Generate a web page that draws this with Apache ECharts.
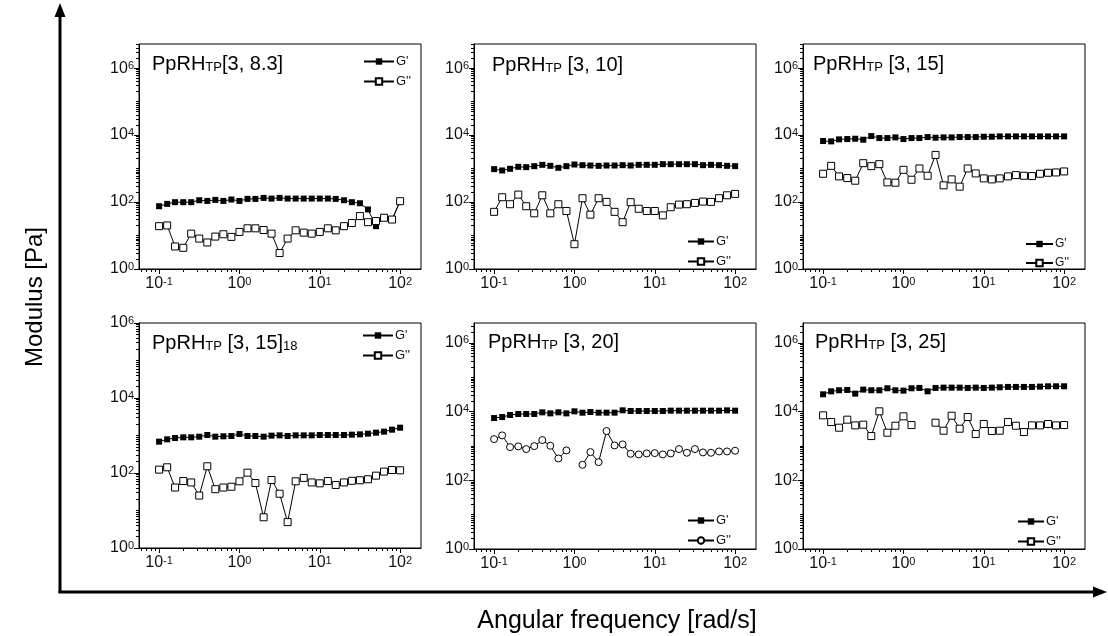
<!DOCTYPE html>
<html><head><meta charset="utf-8">
<script src="https://cdn.jsdelivr.net/npm/echarts@6/dist/echarts.min.js"></script>
<style>html,body{margin:0;padding:0;background:#fff}#c{width:1108px;height:636px}</style>
</head><body><div id="c"></div>
<script>
// ---------- DATA ----------
const freq = [0.1, 0.126, 0.158, 0.2, 0.251, 0.316, 0.398, 0.501, 0.631, 0.794,
  1, 1.26, 1.58, 2, 2.51, 3.16, 3.98, 5.01, 6.31, 7.94,
  10, 12.6, 15.8, 20, 25.1, 31.6, 39.8, 50.1, 63.1, 79.4, 100];
const xMajorTicks = [0.1, 1, 10, 100];
const yMajorTicks = [1, 100, 10000, 1000000];
const seriesNames = ["G'", "G''"];
const panelTitles = [
  ['PpRH', 'TP', '[3, 8.3]', ''],
  ['PpRH', 'TP', ' [3, 10]', ''],
  ['PpRH', 'TP', ' [3, 15]', ''],
  ['PpRH', 'TP', ' [3, 15]', '18'],
  ['PpRH', 'TP', ' [3, 20]', ''],
  ['PpRH', 'TP', ' [3, 25]', '']
];
// G' (storage modulus) and G'' (loss modulus) per panel
const gStorage83 = [75, 88, 99, 99, 99, 113, 108, 116, 108, 119, 108, 124, 124, 133, 127, 133, 127, 127, 127, 127, 127, 127, 124, 113, 99, 92, 60, 19, 34, 30, 106];
const gLoss83 = [19, 20, 4.7, 4.3, 11.4, 8.1, 6.2, 9.3, 10.9, 9.1, 12.8, 16.4, 16.4, 14.6, 11.4, 3.0, 8.1, 14.3, 12.2, 11.4, 12.8, 16.4, 14.3, 19, 23.6, 38, 25, 27, 34, 30, 106];
const gStorage10 = [961, 877, 984, 1127, 1102, 1180, 1292, 1206, 1052, 1180, 1322, 1262, 1233, 1206, 1233, 1233, 1262, 1233, 1292, 1292, 1292, 1352, 1352, 1352, 1352, 1352, 1262, 1292, 1262, 1206, 1180];
const gLoss10 = [51, 139, 86, 167, 75, 46, 159, 46, 86, 54, 5.5, 130, 42, 130, 101, 51, 25, 99, 63, 54, 54, 40, 70, 84, 86, 94, 103, 101, 130, 159, 175];
const gStorage15 = [6637, 6490, 7441, 7610, 7782, 7274, 9340, 8140, 8140, 8530, 7610, 8140, 8140, 8730, 8340, 8530, 8530, 8730, 8730, 8730, 8930, 8930, 9130, 9130, 9130, 9130, 9130, 9130, 9130, 9130, 9130];
const gLoss15 = [699, 1206, 583, 520, 433, 1446, 1180, 1352, 387, 378, 918, 464, 1005, 610, 2554, 315, 475, 288, 1005, 715, 508, 475, 508, 583, 638, 610, 596, 699, 748, 765, 820];
const gStorage15_18 = [685, 790, 858, 894, 894, 931, 1031, 931, 951, 970, 1097, 970, 970, 931, 991, 1010, 970, 1010, 1010, 1010, 1031, 1031, 1031, 1031, 1052, 1074, 1120, 1191, 1266, 1431, 1617];
const gLoss15_18 = [123, 142, 41, 61, 56, 25, 151, 37, 41, 43, 60, 102, 54, 6.6, 65, 28, 4.9, 60, 74, 56, 53, 61, 48, 56, 62, 64, 68, 85, 109, 120, 118];
const gStorage20 = [6500, 6950, 7960, 8510, 8510, 8510, 9530, 8890, 9530, 8890, 10190, 9310, 9730, 9310, 9310, 9310, 10890, 10420, 10420, 10420, 10420, 10420, 10650, 10650, 10650, 10650, 10650, 10650, 10650, 10890, 10650];
const gLoss20 = [1585, 2030, 927, 969, 811, 990, 1483, 1013, 433, 741, null, 283, 662, 338, 2716, 1037, 1109, 592, 566, 605, 619, 566, 605, 811, 634, 811, 648, 634, 692, 692, 724];
const gStorage25 = [31900, 39000, 41800, 42700, 33400, 43700, 41800, 41800, 47800, 41800, 40800, 47800, 48900, 39000, 48900, 49900, 49900, 49900, 48900, 49900, 48900, 49900, 51100, 52300, 52300, 52300, 52300, 53400, 54600, 54600, 54600];
const gLoss25 = [7780, 4970, 3400, 5820, 3970, 4160, 1940, 10190, 2430, 3880, 7280, 4060, null, null, 4750, 2780, 7600, 3180, 6950, 2220, 4350, 2720, 2780, 4970, 3880, 2540, 3970, 3970, 4350, 3970, 4060];

const storageSets = [gStorage83, gStorage10, gStorage15, gStorage15_18, gStorage20, gStorage25];
const lossSets = [gLoss83, gLoss10, gLoss15, gLoss15_18, gLoss20, gLoss25];
const lossSymbols = ['rect', 'rect', 'rect', 'rect', 'circle', 'rect'];

// ---------- LAYOUT ----------
const FONT = '"Liberation Sans", Arial, sans-serif';
const panels = [
  {left: 139, top: 44, width: 282, height: 225, yMax: 5.25e6, legend: [363, 55, 30], title: [152, 54]},
  {left: 474, top: 44, width: 282, height: 225, yMax: 5.25e6, legend: [687, 235, 26], title: [492, 55]},
  {left: 803, top: 44, width: 282, height: 225, yMax: 5.25e6, legend: [1025, 238, 27], title: [813, 54]},
  {left: 139, top: 323, width: 282, height: 225, yMax: 1e6, legend: [362, 329, 30], title: [152, 333]},
  {left: 474, top: 323, width: 282, height: 226, yMax: 3.8e6, legend: [687, 514, 26], title: [488, 332]},
  {left: 803, top: 323, width: 282, height: 226, yMax: 3.8e6, legend: [1017, 515, 26], title: [815, 332]}
];
const xMin = 0.0562, xMax = 182;

function minorTicks(lo, hi, majors) {
  const out = [];
  for (let e = Math.floor(Math.log10(lo)) - 1; e <= Math.ceil(Math.log10(hi)); e++) {
    for (let m = 1; m <= 9; m++) {
      const v = +(m * Math.pow(10, e)).toPrecision(6);
      if (v >= lo && v <= hi && majors.indexOf(v) < 0) out.push(v);
    }
  }
  return out;
}
const supRich = {
  b: {fontSize: 16, fontFamily: FONT, color: '#111', lineHeight: 16, verticalAlign: 'bottom'},
  s: {fontSize: 11, fontFamily: FONT, color: '#111', lineHeight: 8, verticalAlign: 'top'}
};
function powLabel(v) {
  const e = Math.round(Math.log10(v));
  return '{b|10}{s|' + (e < 0 ? '-' + (-e) : e) + '}';
}

const grid = [], xAxis = [], yAxis = [], series = [], legend = [], title = [];
panels.forEach((p, i) => {
  grid.push({left: p.left, top: p.top, width: p.width, height: p.height, show: true,
    borderColor: '#000', borderWidth: 1, backgroundColor: 'transparent', containLabel: false});
  const xMinor = minorTicks(xMin, xMax, xMajorTicks);
  const yMinor = minorTicks(1, p.yMax, yMajorTicks);
  xAxis.push({type: 'log', gridIndex: i, min: xMin, max: xMax, position: 'bottom',
    axisLine: {show: true, lineStyle: {color: '#000', width: 1}},
    axisTick: {show: true, inside: false, length: 5, customValues: xMajorTicks, lineStyle: {color: '#000', width: 1}},
    axisLabel: {show: true, customValues: xMajorTicks, margin: 7, formatter: powLabel, rich: supRich},
    splitLine: {show: false}, minorTick: {show: false}});
  xAxis.push({type: 'log', gridIndex: i, min: xMin, max: xMax, position: 'bottom', offset: 0,
    axisLine: {show: false},
    axisTick: {show: true, inside: false, length: 3, customValues: xMinor, lineStyle: {color: '#000', width: 1}},
    axisLabel: {show: false}, splitLine: {show: false}});
  yAxis.push({type: 'log', gridIndex: i, min: 1, max: p.yMax, position: 'left',
    axisLine: {show: true, lineStyle: {color: '#000', width: 1}},
    axisTick: {show: true, inside: false, length: 5, customValues: yMajorTicks, lineStyle: {color: '#000', width: 1}},
    axisLabel: {show: true, customValues: yMajorTicks, margin: 5, formatter: powLabel, rich: supRich},
    splitLine: {show: false}, minorTick: {show: false}});
  yAxis.push({type: 'log', gridIndex: i, min: 1, max: p.yMax, position: 'left', offset: 0,
    axisLine: {show: false},
    axisTick: {show: true, inside: false, length: 3, customValues: yMinor, lineStyle: {color: '#000', width: 1}},
    axisLabel: {show: false}, splitLine: {show: false}});
  const n1 = seriesNames[0] + '#' + i, n2 = seriesNames[1] + '#' + i;
  series.push({type: 'line', name: n1, xAxisIndex: 2 * i, yAxisIndex: 2 * i,
    data: freq.map((f, k) => [f, storageSets[i][k] == null ? '-' : storageSets[i][k]]),
    symbol: 'rect', symbolSize: 6, lineStyle: {color: '#000', width: 1},
    itemStyle: {color: '#000'}, connectNulls: false, z: 2});
  series.push({type: 'line', name: n2, xAxisIndex: 2 * i, yAxisIndex: 2 * i,
    data: freq.map((f, k) => [f, lossSets[i][k] == null ? '-' : lossSets[i][k]]),
    symbol: lossSymbols[i], symbolSize: 7, lineStyle: {color: '#000', width: 1},
    itemStyle: {color: '#fff', borderColor: '#000', borderWidth: 1}, connectNulls: false, z: 3});
  legend.push({data: [n1, n2], left: p.legend[0], top: p.legend[1], orient: 'vertical',
    padding: 0, itemWidth: p.legend[2], itemHeight: 8, itemGap: 7, selectedMode: false,
    formatter: n => n.split('#')[0],
    textStyle: {fontSize: i === 2 ? 12 : 13, fontFamily: FONT, color: '#111', padding: [0, 0, 0, -3]}});
  const t = panelTitles[i];
  title.push({text: '{m|' + t[0] + '}{s|' + t[1] + '}{m|' + t[2] + '}' + (t[3] ? '{s|' + t[3] + '}' : ''),
    left: p.title[0], top: p.title[1], padding: 0,
    textStyle: {fontWeight: 'normal', rich: {
      m: {fontSize: 20, fontFamily: FONT, fontWeight: 'normal', color: '#000', lineHeight: 20, verticalAlign: 'bottom'},
      s: {fontSize: 13, fontFamily: FONT, fontWeight: 'normal', color: '#000', lineHeight: 10, verticalAlign: 'bottom'}
    }}});
});

const chart = echarts.init(document.getElementById('c'), null, {renderer: 'canvas'});
chart.setOption({
  animation: false,
  backgroundColor: '#fff',
  grid, xAxis, yAxis, series, legend, title,
  graphic: [
    {type: 'line', shape: {x1: 60, y1: 593, x2: 60, y2: 14}, style: {stroke: '#000', lineWidth: 3}},
    {type: 'polygon', shape: {points: [[60, 3], [54.5, 17], [65.5, 17]]}, style: {fill: '#000'}},
    {type: 'line', shape: {x1: 58.5, y1: 592, x2: 1095, y2: 592}, style: {stroke: '#000', lineWidth: 3}},
    {type: 'polygon', shape: {points: [[1107, 592], [1093, 586.5], [1093, 597.5]]}, style: {fill: '#000'}},
    {type: 'text', x: 617, y: 621, style: {text: 'Angular frequency [rad/s]', fontSize: 25, fontFamily: FONT, fill: '#000', align: 'center', verticalAlign: 'middle'}},
    {type: 'text', x: 35, y: 297, rotation: Math.PI / 2, style: {text: 'Modulus [Pa]', fontSize: 24, fontFamily: FONT, fill: '#000', align: 'center', verticalAlign: 'middle'}}
  ]
});
</script></body></html>
